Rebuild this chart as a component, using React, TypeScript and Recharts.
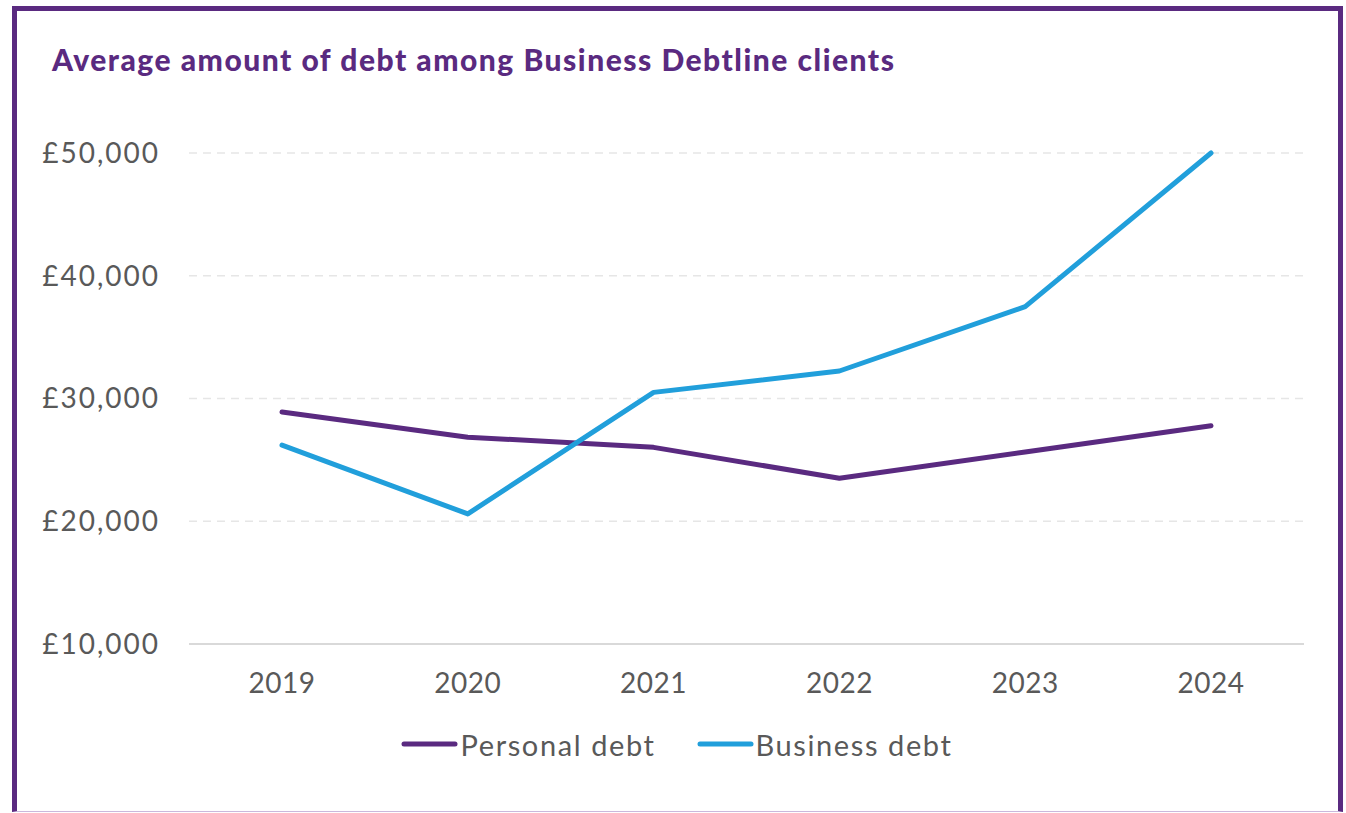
import React from 'react';
import { LineChart, Line, XAxis, YAxis, CartesianGrid, Legend } from 'recharts';

const years = ['2019', '2020', '2021', '2022', '2023', '2024'];
const personalDebt = [28900, 26850, 26020, 23500, 25640, 27780];
const businessDebt = [26200, 20600, 30500, 32240, 37480, 50000];
const yTicks = [10000, 20000, 30000, 40000, 50000];
const seriesOrder = ['personal', 'business'];

const PURPLE = '#5a2a80';
const BLUE = '#219fdb';
const TEXT = '#595959';
const FONT = 'Lato, "Open Sans", sans-serif';

const data = years.map((year, i) => ({
    year,
    personal: personalDebt[i],
    business: businessDebt[i],
}));

const formatPounds = (v: number) => '£' + v.toLocaleString('en-GB');

const LegendContent = ({ payload }: any) => {
    const items = [...(payload || [])].sort(
        (a: any, b: any) => seriesOrder.indexOf(a.dataKey) - seriesOrder.indexOf(b.dataKey)
    );
    return (
        <div style={{ display: 'flex', justifyContent: 'center', alignItems: 'center', height: 40 }}>
            {items.map((entry: any, index: number) => (
                <div
                    key={`legend-${index}`}
                    style={{ display: 'flex', alignItems: 'center', marginLeft: index ? 41 : 0 }}
                >
                    <svg width={57} height={8} style={{ display: 'block' }}>
                        <line x1={3} y1={4} x2={54} y2={4} stroke={entry.color} strokeWidth={5} strokeLinecap="round" />
                    </svg>
                    <span style={{ fontFamily: FONT, fontSize: 29, letterSpacing: 1.6, color: TEXT, marginLeft: 2 }}>
                        {entry.value}
                    </span>
                </div>
            ))}
        </div>
    );
};

const App = () => {
    return (
        <div style={{ position: 'absolute', left: 0, top: 0, width: 1346, height: 813, background: '#fff' }}>
            <div
                style={{
                    position: 'absolute',
                    left: 12,
                    top: 6,
                    width: 1331,
                    height: 806,
                    boxSizing: 'border-box',
                    borderTop: `5px solid ${PURPLE}`,
                    borderLeft: `5px solid ${PURPLE}`,
                    borderRight: `5px solid ${PURPLE}`,
                    borderBottom: '1px solid #cbb8dc',
                }}
            />
            <div
                style={{
                    position: 'absolute',
                    left: 52,
                    top: 41,
                    fontFamily: FONT,
                    fontWeight: 900,
                    fontSize: 30,
                    letterSpacing: 1.5,
                    color: PURPLE,
                    whiteSpace: 'nowrap',
                }}
            >
                Average amount of debt among Business Debtline clients
            </div>
            <div style={{ position: 'absolute', left: 0, top: 0 }}>
                <LineChart width={1346} height={813} data={data} margin={{ top: 153, right: 42, left: 0, bottom: 49 }}>
                    <CartesianGrid vertical={false} stroke="#e6e6e6" strokeDasharray="8 6" strokeWidth={1.5} />
                    <XAxis
                        dataKey="year"
                        height={80}
                        padding={{ left: 93, right: 93 }}
                        axisLine={{ stroke: '#d9d9d9', strokeWidth: 2 }}
                        tickLine={false}
                        tickSize={0}
                        tickMargin={29}
                        tick={{ fill: TEXT, fontSize: 28, fontFamily: FONT, letterSpacing: 0.5 }}
                    />
                    <YAxis
                        width={189}
                        domain={[10000, 50000]}
                        ticks={yTicks}
                        tickFormatter={formatPounds}
                        axisLine={false}
                        tickLine={false}
                        tickSize={0}
                        tickMargin={29}
                        tick={{ fill: TEXT, fontSize: 28, fontFamily: FONT, letterSpacing: 2 }}
                    />
                    <Legend
                        verticalAlign="bottom"
                        content={<LegendContent />}
                        wrapperStyle={{ left: 0, width: 1354 }}
                    />
                    <Line
                        dataKey="personal"
                        name="Personal debt"
                        stroke={PURPLE}
                        strokeWidth={5}
                        dot={false}
                        activeDot={false}
                        strokeLinecap="round"
                        strokeLinejoin="round"
                        isAnimationActive={false}
                    />
                    <Line
                        dataKey="business"
                        name="Business debt"
                        stroke={BLUE}
                        strokeWidth={5}
                        dot={false}
                        activeDot={false}
                        strokeLinecap="round"
                        strokeLinejoin="round"
                        isAnimationActive={false}
                    />
                </LineChart>
            </div>
        </div>
    );
};

export default App;
